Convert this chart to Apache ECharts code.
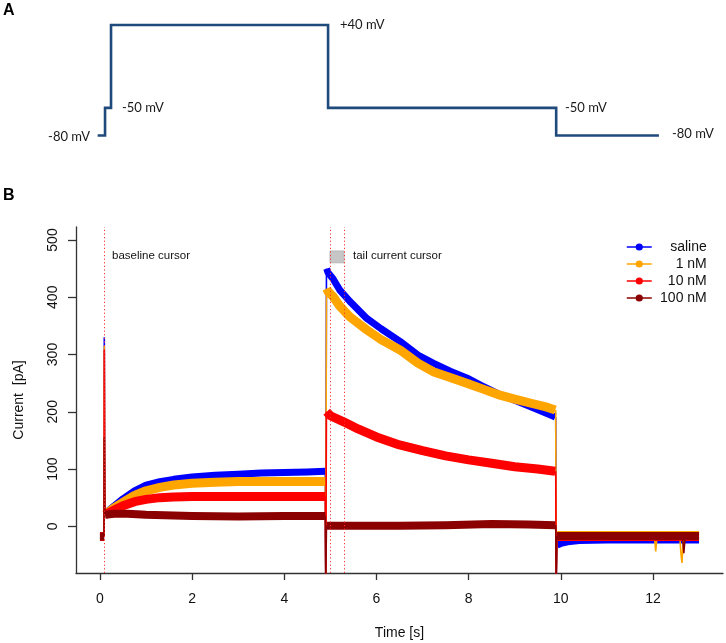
<!DOCTYPE html>
<html>
<head>
<meta charset="utf-8">
<script src="https://cdn.jsdelivr.net/npm/echarts@6/dist/echarts.min.js"></script>
<style>html,body{margin:0;padding:0;background:#fff}#c{width:726px;height:643px}</style>
</head>
<body>
<div id="c"></div>
<script>
// ---- Panel A: voltage protocol (time s, mV) ----
const protocolSteps = [[-0.05,-80],[0.11,-80],[0.11,-50],[0.24,-50],[0.24,40],[4.95,40],[4.95,-50],[9.9,-50],[9.9,-80],[12.13,-80]];
const protocolLabels = ['-80 mV','-50 mV','+40 mV','-50 mV','-80 mV'];

// ---- Panel B: axes ----
const timeTicks = [0,2,4,6,8,10,12];
const currentTicks = [0,100,200,300,400,500];
const seriesNames = ['saline','1 nM','10 nM','100 nM'];
const seriesColors = ['#0000ff','#ffa500','#ff0000','#8b0000'];
const cursorTimes = [0.094, 4.99, 5.30];
const cursorBox = [[4.99, 460],[5.30, 481]];

// ---- noisy current bands (pA), segments separated by null ----
const salineBand = [[0,-18],[0.09,-18],null,
  [0.11,22],[0.3,35],[0.5,48],[0.75,62],[1.0,72],[1.3,78],[1.6,82],[2.0,86],[2.5,89],[3.0,91],[3.5,93],[4.0,94],[4.5,95],[4.89,96],null,
  [4.92,450],[4.95,443],[5.06,432],[5.2,413],[5.42,393],[5.79,363],[6.1,345],[6.51,323],[6.9,299],[7.23,285],[7.6,271],[7.96,259],[8.3,245],[8.68,230],[9.0,220],[9.4,207],[9.7,197],[9.88,191],null,
  [9.92,-33],[10.0,-30],[10.15,-27],[10.4,-25],[11,-24],[12,-24],[13,-24]];
const oneNMBand = [[0,-18],[0.09,-18],null,
  [0.11,20],[0.3,32],[0.5,42],[0.75,54],[1.0,62],[1.3,68],[1.6,72],[2.0,75],[2.5,77],[3.0,78],[3.5,78],[4.0,78],[4.5,78],[4.89,78],null,
  [4.92,415],[4.95,410],[5.06,401],[5.2,385],[5.42,366],[5.79,343],[6.1,326],[6.51,308],[6.9,285],[7.23,270],[7.6,260],[7.96,250],[8.3,240],[8.68,229],[9.0,222],[9.4,214],[9.7,208],[9.88,203],null,
  [9.92,-16],[11,-16],[12,-16],[13,-16]];
const tenNMBand = [[0,-18],[0.09,-18],null,
  [0.11,20],[0.3,28],[0.5,36],[0.75,43],[1.0,47],[1.3,50],[1.6,51],[2.0,52],[2.5,52],[3.0,52],[3.5,52],[4.0,52],[4.5,52],[4.89,52],null,
  [4.92,200],[5.0,193],[5.3,182],[5.6,170],[6.0,156],[6.5,142],[7.0,132],[7.5,123],[8.0,116],[8.5,110],[9.0,104],[9.5,100],[9.88,96],null,
  [9.92,-18],[11,-18],[13,-18]];
const hundredNMBand = [[0,-18],[0.09,-18],null,
  [0.11,20],[0.3,22],[0.6,22],[1.0,20],[2.0,18],[3.0,17],[4.0,18],[4.89,18],null,
  [4.92,1],[5.5,1],[6.5,1],[7.5,2],[8.5,4],[9.3,3],[9.88,2],null,
  [9.92,-17],[11,-17],[12,-17],[13,-17]];

// ---- fast transients and glitches (thin lines) ----
const salineTransients = [[0.09,-18],[0.094,330],[0.105,22],null,[4.89,96],[4.9,-95],[4.915,450],null,[9.89,191],[9.9,-95],[9.915,-33]];
const oneNMTransients = [[0.09,-18],[0.094,315],[0.105,20],null,[4.89,78],[4.9,-95],[4.915,415],null,[9.89,203],[9.9,-95],[9.915,-16],null,
  [12.03,-16],[12.06,-44],[12.09,-16],null,[12.58,-16],[12.61,-50],[12.63,-64],[12.66,-20]];
const tenNMTransients = [[0.09,-18],[0.094,308],[0.105,20],null,[4.89,52],[4.9,-95],[4.915,200],null,[9.89,96],[9.9,-95],[9.915,-18]];
const hundredNMTransients = [[0.09,-18],[0.094,155],[0.105,20],null,[4.89,18],[4.9,-95],[4.915,1],null,[9.89,2],[9.9,-95],[9.915,-17],null,
  [12.64,-17],[12.67,-47],[12.7,-17]];

const bands = [salineBand, oneNMBand, tenNMBand, hundredNMBand];
const transients = [salineTransients, oneNMTransients, tenNMTransients, hundredNMTransients];
const bandWidths = [7, 9, 9, 8];

const FONT = '"Liberation Sans", Arial, sans-serif';
const AX = '#333';

const series = [];
seriesNames.forEach((n, i) => {
  series.push({
    name: n, type: 'line', xAxisIndex: 0, yAxisIndex: 0, data: bands[i],
    symbol: 'none', connectNulls: false, color: seriesColors[i],
    lineStyle: {width: bandWidths[i], color: seriesColors[i], cap: 'butt', join: 'round'},
    silent: true, clip: true
  });
  series.push({
    name: n, type: 'line', xAxisIndex: 0, yAxisIndex: 0, data: transients[i],
    symbol: 'none', connectNulls: false, color: seriesColors[i],
    lineStyle: {width: 1.6, color: seriesColors[i]},
    silent: true, clip: true
  });
});
series.unshift({
  name: 'cursors', type: 'line', xAxisIndex: 0, yAxisIndex: 0, data: [],
  silent: true,
  markLine: {
    silent: true, symbol: ['none','none'], label: {show: false},
    lineStyle: {color: '#ff3030', width: 1, type: [1.2, 2.4]},
    data: cursorTimes.map(t => ({xAxis: t}))
  },
  markArea: {
    silent: true,
    itemStyle: {color: '#c6c6c6', borderColor: '#aaaaaa', borderWidth: 0.6},
    data: [[{xAxis: cursorBox[0][0], yAxis: cursorBox[0][1]}, {xAxis: cursorBox[1][0], yAxis: cursorBox[1][1]}]]
  }
});
series.push({
  name: 'protocol', type: 'line', xAxisIndex: 1, yAxisIndex: 1, data: protocolSteps,
  symbol: 'none', clip: false, silent: true,
  lineStyle: {width: 2.6, color: '#1f4a7c', join: 'miter'}
});

const labelStyle = (text, x, y, align) => ({
  type: 'text', x: x, y: y, silent: true,
  style: {text: text, font: '13px Lato, "Open Sans", sans-serif', fill: '#1a1a1a',
    align: align, textAlign: align, verticalAlign: 'middle', textVerticalAlign: 'middle'}
});

const chart = echarts.init(document.getElementById('c'), null, {renderer: 'canvas'});
chart.setOption({
  animation: false,
  backgroundColor: '#fff',
  textStyle: {fontFamily: FONT},
  grid: [
    {left: 76, top: 227, width: 647, height: 346, containLabel: false, outerBoundsMode: 'none'},
    {left: 76, top: 25, width: 647, height: 110.5, containLabel: false, outerBoundsMode: 'none'}
  ],
  xAxis: [
    {type: 'value', gridIndex: 0, min: -0.52, max: 13.52,
     name: 'Time [s]', nameLocation: 'middle', nameGap: 53,
     nameTextStyle: {fontSize: 14, color: '#111', fontFamily: FONT},
     axisLine: {onZero: false, lineStyle: {color: AX, width: 1.3}},
     axisTick: {show: true, length: 7, customValues: timeTicks, lineStyle: {color: AX, width: 1.3}},
     axisLabel: {customValues: timeTicks, margin: 19, fontSize: 14, color: '#111', fontFamily: FONT},
     splitLine: {show: false}},
    {type: 'value', gridIndex: 1, min: -0.52, max: 13.52, show: false}
  ],
  yAxis: [
    {type: 'value', gridIndex: 0, min: -81.6, max: 522.7,
     name: 'Current  [pA]', nameLocation: 'middle', nameGap: 50, nameRotate: 90,
     nameTextStyle: {fontSize: 14, color: '#111', fontFamily: FONT},
     axisLine: {onZero: false, lineStyle: {color: AX, width: 1.3}},
     axisTick: {show: true, length: 8, customValues: currentTicks, lineStyle: {color: AX, width: 1.3}},
     axisLabel: {customValues: currentTicks, rotate: 90, margin: 16, fontSize: 14, color: '#111', fontFamily: FONT},
     splitLine: {show: false}},
    {type: 'value', gridIndex: 1, min: -80, max: 40, show: false}
  ],
  legend: {
    data: seriesNames, orient: 'vertical', left: 626, top: 240, padding: 0,
    itemWidth: 25, itemHeight: 9, itemGap: 3, selectedMode: false,
    lineStyle: {width: 1.5},
    formatter: n => '{a|' + n + '}',
    textStyle: {fontFamily: FONT, fontSize: 14, color: '#111', rich: {a: {width: 50, align: 'right', fontSize: 14, lineHeight: 14, fontFamily: FONT, color: '#111'}}}
  },
  graphic: [
    {type: 'text', x: 3, y: 3, silent: true, style: {text: 'A', font: 'bold 16px ' + FONT, fill: '#000'}},
    {type: 'text', x: 3, y: 188, silent: true, style: {text: 'B', font: 'bold 16px ' + FONT, fill: '#000'}},
    labelStyle(protocolLabels[0], 90, 136.5, 'right'),
    labelStyle(protocolLabels[1], 122, 108, 'left'),
    labelStyle(protocolLabels[2], 340, 25, 'left'),
    labelStyle(protocolLabels[3], 565, 107.5, 'left'),
    labelStyle(protocolLabels[4], 672, 134, 'left'),
    {type: 'text', x: 112, y: 256, silent: true, style: {text: 'baseline cursor', font: '11.5px ' + FONT, fill: '#111', verticalAlign: 'middle', textVerticalAlign: 'middle'}},
    {type: 'text', x: 353, y: 256, silent: true, style: {text: 'tail current cursor', font: '11.5px ' + FONT, fill: '#111', verticalAlign: 'middle', textVerticalAlign: 'middle'}}
  ],
  series: series
});
</script>
</body>
</html>
